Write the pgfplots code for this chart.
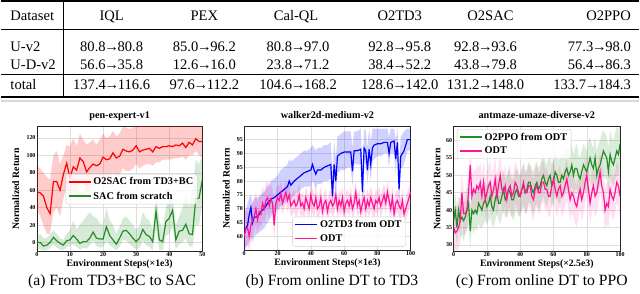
\documentclass[border=0pt]{standalone}
\usepackage{pgfplots}
\pgfplotsset{compat=1.18}
\usepackage{pgfplotstable}
\usepgfplotslibrary{fillbetween}
\usepackage{fontspec}
\setmainfont{Liberation Serif}
\definecolor{mred}{RGB}{255,0,0}
\definecolor{mgreen}{RGB}{36,140,36}
\definecolor{mblue}{RGB}{0,0,255}
\definecolor{mpink}{RGB}{255,20,147}
\newcommand\tf{\fontsize{14.6}{16}\selectfont}
\newcommand\cf{\fontsize{15.7}{17}\selectfont}
\newcommand\ar{\kern-1.3pt→\kern-1.3pt}

\pgfplotstableread{
x m lo hi
0 58 38 88
1 57 30 85
2 53 20 80
3 40 10 75
4 33 10 72
5 70 35 100
6 70 40 105
7 60 30 90
8 78 50 100
9 91 65 112
10 74 45 110
11 87 60 120
12 83 55 110
13 97 70 125
14 93 70 118
15 81 55 112
16 86 62 115
17 90 65 118
18 88 68 112
19 90 70 118
20 98 75 125
21 95 72 120
22 96 72 122
23 103 80 128
24 97 75 122
25 99 78 125
26 107 85 133
27 105 82 132
28 104 82 130
29 106 85 132
30 111 90 135
31 104 85 135
32 106 88 135
33 107 90 135
34 108 90 135
35 104 88 135
36 110 92 135
37 108 92 135
38 110 95 135
39 110 95 135
40 111 95 135
41 110 96 135
42 112 97 135
43 111 97 135
44 114 99 135
45 109 95 135
46 115 100 135
47 112 100 135
48 119 105 135
49 116 100 135
50 116 98 135
}\tAred

\pgfplotstableread{
x m lo hi
0 0 -8 8
1 0 -8 10
2 -4 -9 5
3 -3 -9 5
4 0 -6 10
5 6 -2 14
6 2 -6 10
7 -1 -8 5
8 -3 -9 3
9 2 -5 10
10 3 -4 14
11 8 -2 25
12 4 -5 15
13 -1 -8 20
14 1 -6 25
15 1 -7 30
16 5 -3 35
17 12 2 30
18 5 -4 28
19 4 -6 22
20 4 -5 20
21 18 2 40
22 8 -3 25
23 3 -6 20
24 -2 -9 10
25 5 -5 18
26 13 3 28
27 14 2 30
28 10 -2 25
29 5 -5 20
30 1 -8 15
31 5 -6 18
32 15 2 35
33 9 -3 28
34 7 -5 25
35 1 -9 15
36 36 15 55
37 3 -8 25
38 1 -9 15
39 24 8 40
40 28 10 50
41 37 18 55
42 3 -8 20
43 13 -2 30
44 14 0 40
45 21 5 55
46 10 -4 40
47 9 -5 60
48 50 20 95
49 51 20 90
50 72 45 100
}\tAgreen

\pgfplotstableread{
x m lo hi
0 61 55 68
1 63 56 70
2 64 57 72
3 68 58 74
4 70.5 60 75
5 65 58 72
6 67 60 74
8 67 61 74
10 69 62 75
12 70 63 76
14 72 65 78
16 73.5 67 80
18 74 69 81
20 75 70 82
22 76 71 84
24 77 72 85
26 78 73 86
27 80 74 88
28 78.5 73 87
30 80 75 88
32 81 76 89
34 82 77 90
36 83 78 91
38 83.5 78 91
40 84 78 92
41 86 80 93
42 84 79 92
43 82.5 77 91
44 84 79 92
46 84 79 92
48 85 80 93
50 85.5 80 93
52 86 81 94
53 74.5 70 82
54 86 81 95
55 80 74 88
56 89 83 96
58 90 84 97
60 90.5 84 98
62 90.5 85 98
64 90.5 85 98
65 83.5 78 92
66 91 86 98
68 91 86 98
70 91.5 86 99
71 76 71 84
72 92 87 99
73 91 86 98
74 84 79 92
75 91.5 86 99
76 86 80 94
77 92 87 99
78 93 88 99
80 93.5 89 99
82 93.5 89 99
84 94 90 99
86 94 90 99
87 90 85 96
88 94 90 99
90 94.5 90 99
91 88 83 95
92 94 90 99
93 77 70 86
94 89 84 96
96 91 86 98
98 95 91 99
100 95 91 99
}\tBblue

\pgfplotstableread{
x m lo hi
0 60 55 66
1 63 56 70
2 63 57 69
3 60 55 66
4 64 58 70
5 66 60 72
6 67 62 73
7 70 64 76
8 66 61 72
9 69 64 75
10 68 63 74
11 72 66 78
12 70 65 76
13 73 67 79
14 74 69 80
15 71 66 77
16 73.5 69 79
17 72 68 77
18 64 59 70
19 72 68 77
20 74 70 79
21 73 69 78
22 75.5 71 80
23 72 68 77
24 74 70 78
25 76 72 80
26 73 69 78
27 75 71 79
28 71 67 75
29 72 68 76
30 73 69 77
31 71 67 75
32 72 68 77
33 75 71 79
34 71 67 75
35 72 68 76
36 70 66 74
37 74 70 78
38 72 68 76
39 70 66 74
40 75 71 79
41 72 68 77
42 71 67 75
43 74 70 78
44 70 66 74
45 71 67 75
46 74 70 78
47 69 65 73
48 72 68 76
49 73 69 77
50 69 65 73
51 72 68 76
52 73 69 77
53 71 67 75
54 72 68 76
55 75 71 79
56 70 66 74
57 73 69 77
58 71 67 75
59 74 70 78
60 69 65 73
61 72 68 76
62 73 69 77
63 71 67 75
64 74 70 78
65 70 66 74
66 72 68 76
67 76 72 80
68 71 67 75
69 73 69 77
70 69 65 73
71 72 68 76
72 74 70 78
73 70 66 74
74 73 69 77
75 71 67 75
76 74 70 78
77 72 68 76
78 70 66 74
79 73 69 77
80 72 68 76
81 74 70 78
82 71 67 75
83 73 69 77
84 75 71 79
85 72 68 76
86 76 72 80
87 73 69 77
88 70 66 74
89 74 70 78
90 68 64 72
91 72 68 76
92 73 69 77
93 71 67 75
94 70 66 74
95 73 69 77
96 68 64 72
97 70 66 74
98 72 68 76
99 74 70 78
100 76 72 80
}\tBpink

\pgfplotstableread{
x m lo hi
0 37 32 42
1 40 34 45
2 35 30 41
3 40 35 44
4 37 32 43
5 38 33 44
6 37 31 42
7 38 33 43
8 40 35 46
9 42 36 47
10 34 29 41
11 40 35 46
12 39 33 45
13 40 35 45
14 39 34 45
15 42 36 47
16 41 35 46
17 40 35 46
18 42 36 48
19 43 37 48
20 41 36 47
21 42 37 48
22 44 38 49
23 41 36 47
24 40 35 46
25 43 37 49
26 45 39 50
27 42 37 48
28 42 36 47
29 44 38 50
30 46 40 51
31 43 38 49
32 44 38 50
33 46 40 52
34 45 39 50
35 43 38 49
36 43 37 49
37 45 39 51
38 46 40 52
39 44 38 50
40 44 39 50
41 46 40 52
42 47 41 53
43 45 39 51
44 46 40 52
45 48 42 54
46 48 42 53
47 46 40 52
48 45 39 51
49 47 41 53
50 48 42 54
51 46 40 52
52 47 41 53
53 49 43 55
54 50 44 56
55 48 42 54
56 47 41 53
57 49 43 55
58 50 44 56
59 47 41 53
60 48 42 54
61 51 45 57
62 50 44 56
63 48 42 54
64 48 42 55
65 50 44 56
66 49 43 55
67 51 45 57
68 52 46 58
69 50 44 56
70 51 45 57
71 53 47 59
72 50 44 56
73 52 46 58
74 52 46 59
75 50 44 56
76 49 43 55
77 51 45 57
78 53 47 59
79 52 46 58
80 51 45 57
81 53 47 60
82 55 49 61
83 53 47 59
84 52 46 58
85 55 49 61
86 50 44 57
87 52 46 59
88 53 47 60
89 55 49 62
90 57 50 63
91 56 49 62
92 55 49 61
93 51 45 58
94 56 50 63
95 54 48 61
96 53 47 60
97 55 49 62
98 57 50 64
99 56 50 63
100 59 52 65
}\tCgreen

\pgfplotstableread{
x m lo hi
0 35 29 41
1 33.5 28 40
2 34 28 41
3 35 29 42
4 37 31 44
5 45 38 51
6 39 33 46
7 39 33 45
8 40 34 47
9 45 39 51
10 53 46 59
11 44 38 50
12 46 40 52
13 45 39 51
14 47 41 53
15 46 40 52
16 48 42 54
17 44 38 50
18 48 42 54
19 43 37 49
20 45 39 51
21 47 41 53
22 48 42 54
23 44 38 50
24 46 40 52
25 49 43 55
26 44 38 50
27 47 41 53
28 50 44 56
29 46 40 52
30 45 39 51
31 47 41 53
32 43 37 49
33 46 40 52
34 47 41 53
35 44 38 50
36 45 39 51
37 48 42 54
38 47 41 53
39 45 39 51
40 44 38 50
41 46 40 52
42 48 42 54
43 45 39 51
44 45 39 51
45 47 41 53
46 47 41 53
47 44 38 50
48 43 37 49
49 46 40 52
50 47 41 53
51 45 39 51
52 45 39 51
53 48 42 54
54 48 42 54
55 46 40 52
56 46 40 52
57 44 38 50
58 44 38 50
59 47 41 53
60 49 43 55
61 46 40 52
62 44 38 50
63 46 40 52
64 47 41 53
65 44 38 50
66 45 39 51
67 47 41 53
68 49 43 55
69 46 40 52
70 43 37 49
71 45 39 51
72 44 38 50
73 42 36 48
74 41 35 47
75 44 38 50
76 46 40 52
77 43 37 49
78 45 39 51
79 48 42 54
80 50 44 56
81 46 40 52
82 42 36 48
83 45 39 51
84 47 41 53
85 44 38 50
86 45 39 51
87 48 42 54
88 51 45 57
89 47 41 53
90 45 39 51
91 40 34 46
92 42 36 48
93 41 35 47
94 46 40 52
95 44 38 50
96 43 37 49
97 45 39 51
98 48 42 54
99 47 41 53
100 44 38 50
}\tCpink

\pgfplotsset{
 myax/.style={
  scale only axis, anchor=south west,
  grid=major, major grid style={black!13, line width=0.5pt},
  axis line style={black!85, line width=0.5pt},
  tick style={draw=none},
  ticklabel style={font=\fontsize{6}{6.5}\selectfont\bfseries},
  /pgf/number format/assume math mode=true,
  xticklabel style={inner sep=1pt, yshift=-0.3pt},
  yticklabel style={inner sep=1.2pt},
  label style={font=\fontsize{9.8}{10.5}\selectfont\bfseries},
  title style={font=\fontsize{10.2}{11}\selectfont\bfseries, at={(axis description cs:0.5,1)}, anchor=base, yshift=1.8pt},
  xlabel style={at={(axis description cs:0.5,0)}, anchor=center, yshift=-13pt},
  legend style={font=\fontsize{10.3}{11}\selectfont\bfseries, draw=black!20, rounded corners=2pt, fill=white, fill opacity=0.8, text opacity=1, inner xsep=2pt, inner ysep=1.5pt, row sep=1.5pt, cells={anchor=west}},
  legend image code/.code={\draw[##1, line width=1.6pt] (0pt,0pt) -- (22pt,0pt);},
 },
 band/.style={draw=none, forget plot},
}

\begin{document}
\begin{tikzpicture}
\path (0pt,0pt) rectangle (640pt,294pt);
% ---------- table ----------
\begin{scope}[x=1pt,y=1pt]
\draw[line width=2pt] (0,292.8) -- (640,292.8);
\draw[line width=0.8pt] (0,264.5) -- (640,264.5);
\draw[line width=0.8pt] (0,219.5) -- (640,219.5);
\draw[line width=2pt] (0,197) -- (640,197);
\draw[line width=0.8pt] (62.3,291.8) -- (62.3,198);
\draw[black!15, line width=2pt] (0,192.6) -- (640,192.6);
\tikzset{tc/.style={anchor=base, inner sep=0pt, font=\tf}, tl/.style={anchor=base west, inner sep=0pt, font=\tf}, tr/.style={anchor=base east, inner sep=0pt, font=\tf}}
\node[tl] at (9.3,273) {Dataset};
\node[tc] at (111,273) {IQL};
\node[tc] at (204,273) {PEX};
\node[tc] at (296,273) {Cal-QL};
\node[tc] at (400,273) {O2TD3};
\node[tc] at (491,273) {O2SAC};
\node[tr] at (632,273) {O2PPO};
\node[tl] at (9.3,242.5) {U-v2};
\node[tc] at (111,242.5) {80.8\ar80.8};
\node[tc] at (204,242.5) {85.0\ar96.2};
\node[tc] at (298,242.5) {80.8\ar97.0};
\node[tc] at (400,242.5) {92.8\ar95.8};
\node[tc] at (486,242.5) {92.8\ar93.6};
\node[tr] at (632,242.5) {77.3\ar98.0};
\node[tl] at (9.3,224.3) {U-D-v2};
\node[tc] at (111,224.3) {56.6\ar35.8};
\node[tc] at (204,224.3) {12.6\ar16.0};
\node[tc] at (298,224.3) {23.8\ar71.2};
\node[tc] at (400,224.3) {38.4\ar52.2};
\node[tc] at (486,224.3) {43.8\ar79.8};
\node[tr] at (632,224.3) {56.4\ar86.3};
\node[tl] at (9.3,204.3) {total};
\node[tc] at (111,204.3) {137.4\ar116.6};
\node[tc] at (204,204.3) {97.6\ar112.2};
\node[tc] at (298,204.3) {104.6\ar168.2};
\node[tc] at (400,204.3) {128.6\ar142.0};
\node[tc] at (486,204.3) {131.2\ar148.0};
\node[tr] at (632,204.3) {133.7\ar184.3};
% ---------- captions ----------
\node[anchor=base, inner sep=0pt, font=\cf] at (111.5,7.5) {(a) From TD3+BC to SAC};
\node[anchor=base, inner sep=0pt, font=\cf] at (332,7.5) {(b) From online DT to TD3};
\node[anchor=base, inner sep=0pt, font=\cf] at (542.5,7.5) {(c) From online DT to PPO};
\end{scope}
% ---------- plot (a) ----------
\begin{axis}[myax, at={(36pt,42pt)}, width=166pt, height=125pt,
  xmin=0, xmax=50, ymin=-10, ymax=133,
  xtick={0,10,...,50}, ytick={0,20,...,120},
  title={pen-expert-v1}, xlabel={Environment Steps(×1e3)}, ylabel={Normalized Return},
  ylabel style={at={(axis description cs:-0.127,0.5)}, anchor=center},
  legend style={at={(0.97,0.62)}, anchor=north east}]
\addplot[band, name path=ah] table[x=x,y=hi] {\tAred};
\addplot[band, name path=al] table[x=x,y=lo] {\tAred};
\addplot[mred, fill opacity=0.2, draw=none, forget plot] fill between[of=ah and al];
\addplot[band, name path=bh] table[x=x,y=hi] {\tAgreen};
\addplot[band, name path=bl] table[x=x,y=lo] {\tAgreen};
\addplot[mgreen, fill opacity=0.18, draw=none, forget plot] fill between[of=bh and bl];
\addplot[mred, line width=1.2pt] table[x=x,y=m] {\tAred};
\addlegendentry{O2SAC from TD3+BC}
\addplot[mgreen, line width=1.2pt] table[x=x,y=m] {\tAgreen};
\addlegendentry{SAC from scratch}
\end{axis}
% ---------- plot (b) ----------
\begin{axis}[myax, at={(244pt,43pt)}, width=167pt, height=124pt,
  xmin=0, xmax=100, ymin=55, ymax=99.7,
  xtick={0,20,...,100}, ytick={60,65,...,95},
  title={walker2d-medium-v2}, xlabel={Environment Steps(×1e3)}, ylabel={Normalized Return},
  ylabel style={at={(axis description cs:-0.108,0.5)}, anchor=center},
  legend style={at={(0.97,0.03)}, anchor=south east}]
\addplot[band, name path=ch] table[x=x,y=hi] {\tBblue};
\addplot[band, name path=cl] table[x=x,y=lo] {\tBblue};
\addplot[mblue, fill opacity=0.18, draw=none, forget plot] fill between[of=ch and cl];
\addplot[band, name path=dh] table[x=x,y=hi] {\tBpink};
\addplot[band, name path=dl] table[x=x,y=lo] {\tBpink};
\addplot[mpink, fill opacity=0.18, draw=none, forget plot] fill between[of=dh and dl];
\addplot[mblue, line width=1.2pt] table[x=x,y=m] {\tBblue};
\addlegendentry{O2TD3 from ODT}
\addplot[mpink, line width=1.2pt] table[x=x,y=m] {\tBpink};
\addlegendentry{ODT}
\end{axis}
% ---------- plot (c) ----------
\begin{axis}[myax, at={(454pt,42pt)}, width=167pt, height=125pt,
  xmin=0, xmax=100, ymin=28.2, ymax=64,
  xtick={0,20,...,100}, ytick={30,35,...,60},
  title={antmaze-umaze-diverse-v2}, xlabel={Environment Steps(×2.5e3)}, ylabel={Normalized Return},
  ylabel style={at={(axis description cs:-0.10,0.5)}, anchor=center},
  legend style={at={(0.02,0.98)}, anchor=north west}]
\addplot[band, name path=eh] table[x=x,y=hi] {\tCgreen};
\addplot[band, name path=el] table[x=x,y=lo] {\tCgreen};
\addplot[mgreen, fill opacity=0.17, draw=none, forget plot] fill between[of=eh and el];
\addplot[band, name path=fh] table[x=x,y=hi] {\tCpink};
\addplot[band, name path=fl] table[x=x,y=lo] {\tCpink};
\addplot[mpink, fill opacity=0.13, draw=none, forget plot] fill between[of=fh and fl];
\addplot[mgreen, line width=1.2pt] table[x=x,y=m] {\tCgreen};
\addlegendentry{O2PPO from ODT}
\addplot[mpink, line width=1.2pt] table[x=x,y=m] {\tCpink};
\addlegendentry{ODT}
\end{axis}
\end{tikzpicture}
\end{document}
